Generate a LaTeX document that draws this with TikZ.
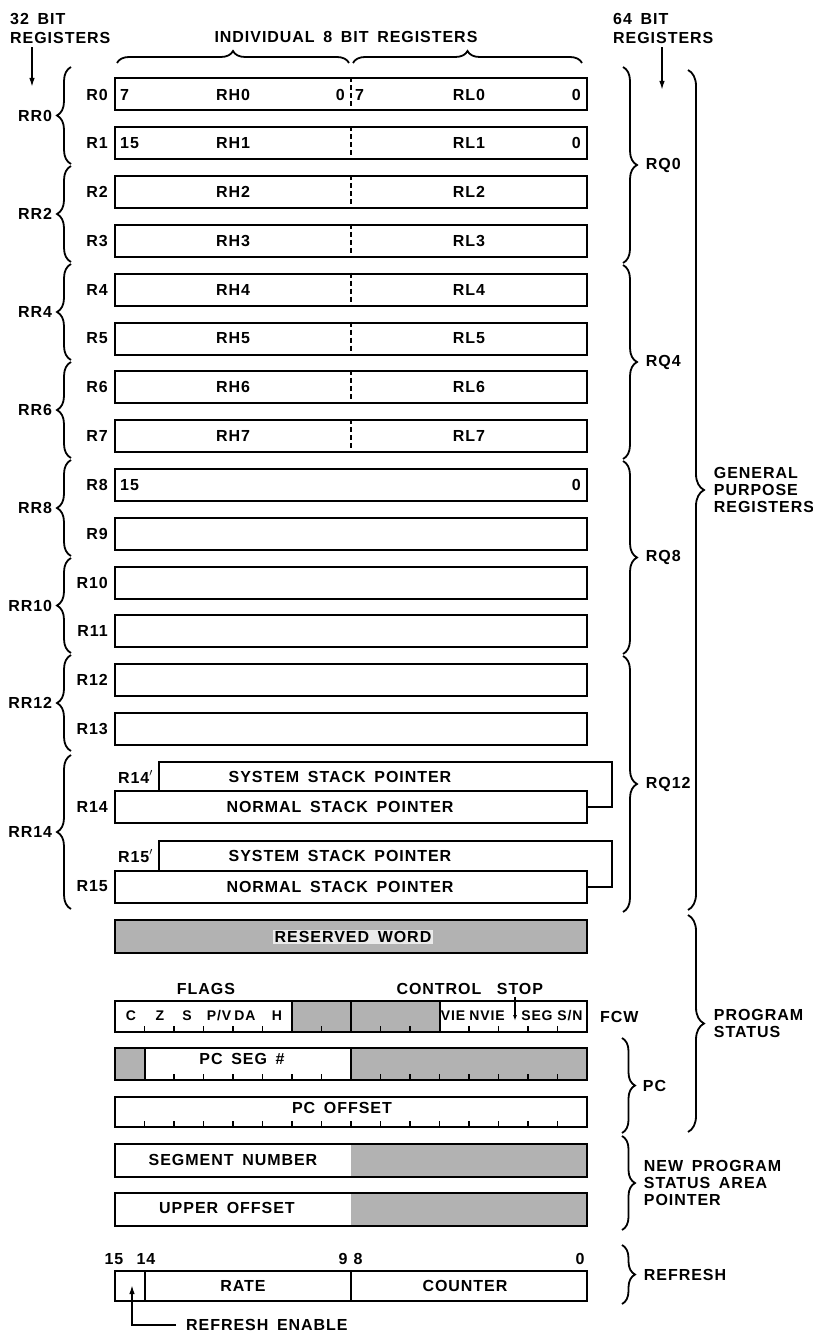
\documentclass[tikz,border=0pt]{standalone}
\usepackage{fontspec}
\setmainfont{Liberation Sans}[LetterSpace=6, WordSpace=1.6]
\usetikzlibrary{positioning, arrows.meta, decorations.pathreplacing}
\colorlet{stipple}{black!30}

\begin{document}
\begin{tikzpicture}[x=1pt, y=-1pt, font=\fontsize{16}{17}\selectfont\bfseries,
    regbox/.style={draw, line width=2pt, minimum width=472pt, minimum height=32pt, inner sep=0pt},
    lbl/.style={inner sep=0pt},
    head/.style={inner sep=0pt, align=left, anchor=west, font=\fontsize{16}{19}\selectfont\bfseries},
    bitlbl/.style={inner sep=0pt, font=\fontsize{14}{15}\selectfont\bfseries},
    wall/.style={line width=2pt},
    half/.style={line width=1.4pt, dash pattern=on 5pt off 3pt},
    tick/.style={line width=1.5pt},
    curly/.style={decorate, decoration={brace, amplitude=14pt}, line width=1.8pt},
    arr/.style={line width=1.6pt, -{Latex[length=9pt, width=5.5pt]}}]
    \useasboundingbox (0,0) rectangle (813,1332);

    \node[head] (h32) at (10,28) {32 BIT\\REGISTERS};
    \node[head] (h64) at (613,28) {64 BIT\\REGISTERS};
    \node[lbl] (h8) at (346,37) {INDIVIDUAL 8 BIT REGISTERS};
    \coordinate (t32) at (32,87);
    \coordinate (t64) at (662,90);
    \draw[arr, shorten <=4pt] (t32 |- h32.south) -- (t32);
    \draw[arr, shorten <=4pt] (t64 |- h64.south) -- (t64);
    \draw[curly, decoration={amplitude=12pt}] (117,63) -- (349,63);
    \draw[curly, decoration={amplitude=12pt}] (353,63) -- (582,63);

    \foreach \i in {0,...,13} {
        \node[regbox] (r\i) at (351, 94.5+48.8*\i) {};
        \node[lbl, left=6pt of r\i] (n\i) {R\i};
    }
    \foreach \i in {0,...,7} {
        \draw[half] (r\i.north) -- (r\i.south);
        \node[lbl] (rh\i) at (233, 94.5+48.8*\i) {RH\i};
        \node[lbl] (rl\i) at (469, 94.5+48.8*\i) {RL\i};
    }
    \node[lbl, right=6pt of r0.west] (r0a) {7};
    \node[lbl, left=6pt of r0.center] (r0b) {0};
    \node[lbl, right=4pt of r0.center] (r0c) {7};
    \node[lbl, left=7pt of r0.east] (r0d) {0};
    \node[lbl, right=6pt of r1.west] (r1a) {15};
    \node[lbl, left=7pt of r1.east] (r1d) {0};
    \node[lbl, right=6pt of r8.west] (r8a) {15};
    \node[lbl, left=7pt of r8.east] (r8d) {0};

    \node[regbox] (r14) at (351,807) {};
    \node[lbl, left=6pt of r14] (n14) {R14};
    \draw[wall] (r14.east) -- (612,807) -- (612,762) -- (159,762) -- (159,791);
    \node[lbl, anchor=east] (n14p) at (153,777) {R14$'$};
    \node[lbl] (s14) at (340,777) {SYSTEM STACK POINTER};
    \node[lbl] (m14) at (340,807) {NORMAL STACK POINTER};
    \node[regbox] (r15) at (351,886.5) {};
    \node[lbl, left=6pt of r15] (n15) {R15};
    \draw[wall] (r15.east) -- (612,886.5) -- (612,841) -- (159,841) -- (159,870.5);
    \node[lbl, anchor=east] (n15p) at (153,856) {R15$'$};
    \node[lbl] (s15) at (340,856) {SYSTEM STACK POINTER};
    \node[lbl] (m15) at (340,886.5) {NORMAL STACK POINTER};

    \node[regbox, minimum height=33pt, fill=stipple] (rsvd) at (351,936.5) {};
    \node[lbl, fill=black!8, inner sep=1.5pt] (rw) at (353,937) {RESERVED WORD};

    \node[lbl] (flags) at (206,989) {FLAGS};
    \node[lbl] (ctrl) at (439,989) {CONTROL};
    \node[lbl] (stop) at (520,989) {STOP};
    \fill[stipple] (292,1001) rectangle (439.5,1032);
    \node[regbox, minimum height=31pt] (fcw) at (351,1016.5) {};
    \foreach \x in {292,351,439.5}
        \draw[wall] (\x,1001) -- (\x,1032);
    \foreach \b in {1,...,15}
        \draw[tick] (115+29.5*\b,1032) -- ++(0,-6);
    \foreach \x/\t [count=\n] in {131/C, 160/Z, 187/S, 219/{P/V}, 245/DA, 277/H, 453/VIE, 487/NVIE, 537/SEG, 570/{S/N}}
        \node[bitlbl] (fl\n) at (\x,1016) {\t};
    \coordinate (tstop) at (515,1021);
    \draw[arr, -{Latex[length=6pt, width=4pt]}, shorten <=2pt] (tstop |- stop.south) -- (tstop);
    \node[lbl, right=12pt of fcw] (fcwname) {FCW};

    \fill[stipple] (115,1048) rectangle (144.5,1080);
    \fill[stipple] (351,1048) rectangle (587,1080);
    \node[regbox] (pcseg) at (351,1064) {};
    \foreach \x in {144.5,351}
        \draw[wall] (\x,1048) -- (\x,1080);
    \foreach \b in {2,3,4,5,6,7,9,10,11,12,13,14,15}
        \draw[tick] (115+29.5*\b,1080) -- ++(0,-6);
    \node[lbl] (pcsegt) at (242,1059) {PC SEG \#};

    \node[regbox, minimum height=30pt] (pcoff) at (351,1112) {};
    \foreach \b in {1,...,15}
        \draw[tick] (115+29.5*\b,1127) -- ++(0,-6);
    \node[lbl] (pcofft) at (342,1108) {PC OFFSET};

    \fill[stipple] (351,1144) rectangle (587,1177);
    \node[regbox, minimum height=33pt] (segnum) at (351,1160.5) {};
    \node[lbl] (segnumt) at (233,1160) {SEGMENT NUMBER};
    \fill[stipple] (351,1193) rectangle (587,1226);
    \node[regbox, minimum height=33pt] (upoff) at (351,1209.5) {};
    \node[lbl] (upofft) at (227,1208) {UPPER OFFSET};

    \node[regbox, minimum height=30pt] (rfsh) at (351,1286) {};
    \foreach \x in {144.5,351}
        \draw[wall] (\x,1271) -- (\x,1301);
    \node[lbl] (rate) at (243,1286) {RATE};
    \node[lbl] (cntr) at (465,1286) {COUNTER};
    \foreach \x/\t [count=\n] in {114/15, 146/14, 343/9, 358/8, 580/0}
        \node[lbl] (rb\n) at (\x,1259) {\t};
    \coordinate (ren) at (132,1285);
    \node[lbl, anchor=west] (rfen) at (186,1325) {REFRESH ENABLE};
    \draw[arr, shorten <=10pt] (rfen.west) -| (ren);

    \foreach \t/\b/\n in {67/164/0, 166/262/2, 264/360/4, 362/458/6, 460/556/8, 558/653/10, 655/751/12, 755/909/14}
        \draw[curly] (71,\b) -- (71,\t) node[lbl, midway, left=18pt] (rr\n) {RR\n};
    \foreach \t/\b/\n in {67/263/0, 265/459/4, 461/654/8, 656/912/12}
        \draw[curly] (623,\t) -- (623,\b) node[lbl, midway, right=22pt] (rq\n) {RQ\n};
    \draw[curly, decoration={amplitude=16pt}] (688,70) -- (688,910)
        node[lbl, midway, right=25pt, align=left] (gpr) {GENERAL\\PURPOSE\\REGISTERS};
    \draw[curly, decoration={amplitude=16pt}] (688,915) -- (688,1132)
        node[lbl, midway, right=25pt, align=left] (pstat) {PROGRAM\\STATUS};
    \draw[curly, decoration={amplitude=13pt}] (622,1038) -- (622,1133)
        node[lbl, midway, right=20pt] (pc) {PC};
    \draw[curly, decoration={amplitude=13pt}] (622,1136) -- (622,1230)
        node[lbl, midway, right=21pt, align=left] (npsa) {NEW PROGRAM\\STATUS AREA\\POINTER};
    \draw[curly, decoration={amplitude=13pt}] (622,1245) -- (622,1304)
        node[lbl, midway, right=21pt] (rfname) {REFRESH};
\end{tikzpicture}
\end{document}
